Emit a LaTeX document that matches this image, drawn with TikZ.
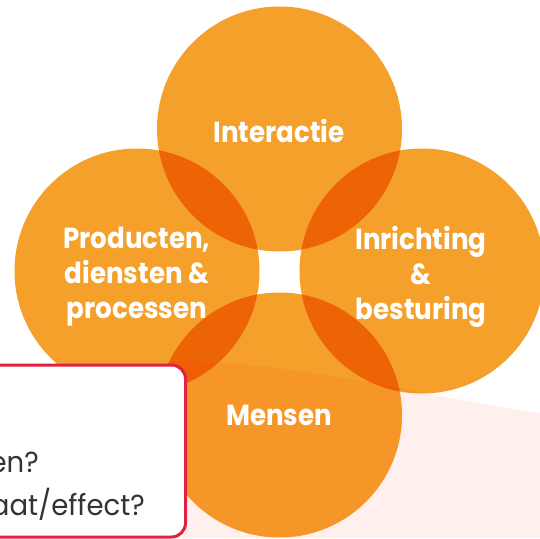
\documentclass[tikz,border=0pt]{standalone}
\usepackage{fontspec}
\setmainfont{Poppins}
\newfontfamily\lightf[FakeStretch=0.95]{Poppins}
\newfontfamily\semif[FakeStretch=0.9]{Poppins Bold}
\definecolor{petal}{HTML}{F6A02C}
\definecolor{blush}{HTML}{FFF0EE}
\definecolor{crimson}{HTML}{E3203F}
\definecolor{ink}{HTML}{333333}
\tikzset{
  petalc/.style={fill=petal,draw=none},
  lab/.style={text=white,font=\semif\fontsize{29}{35}\selectfont,align=center,inner sep=0pt},
  q/.style={text=ink,font=\lightf\fontsize{29}{34}\selectfont,inner sep=0pt,anchor=base east}
}
\begin{document}
\begin{tikzpicture}[x=1pt,y=-1pt]
\useasboundingbox (0,0) rectangle (540,538);
\clip (0,0) rectangle (540,538);
\fill[white] (0,0) rectangle (540,538);
\fill[blush] (170,361) .. controls (300,361) and (420,396) .. (540,413) -- (540,538) -- (170,538) -- cycle;
\begin{scope}[blend mode=multiply]
\fill[petalc] (279.5,129) circle (122.5);
\fill[petalc] (137,271) circle (122.5);
\fill[petalc] (422,271) circle (122.5);
\fill[petalc] (279.5,415) circle (122.5);
\end{scope}
\node[lab] (top) at (279,131) {Interactie};
\node[lab] (left) at (137,276.5) {Producten,\\diensten \&\\processen};
\node[lab] (right) at (421,276.5) {Inrichting\\\&\\besturing};
\node[lab] (bottom) at (279,415) {Mensen};
\draw[crimson,line width=3pt,fill=white,rounded corners=14pt] (-30,365) rectangle (185.5,537);
\node[q] (q1) at (39,472) {en?};
\node[q] (q2) at (145,515) {aat/effect?};
\end{tikzpicture}
\end{document}
